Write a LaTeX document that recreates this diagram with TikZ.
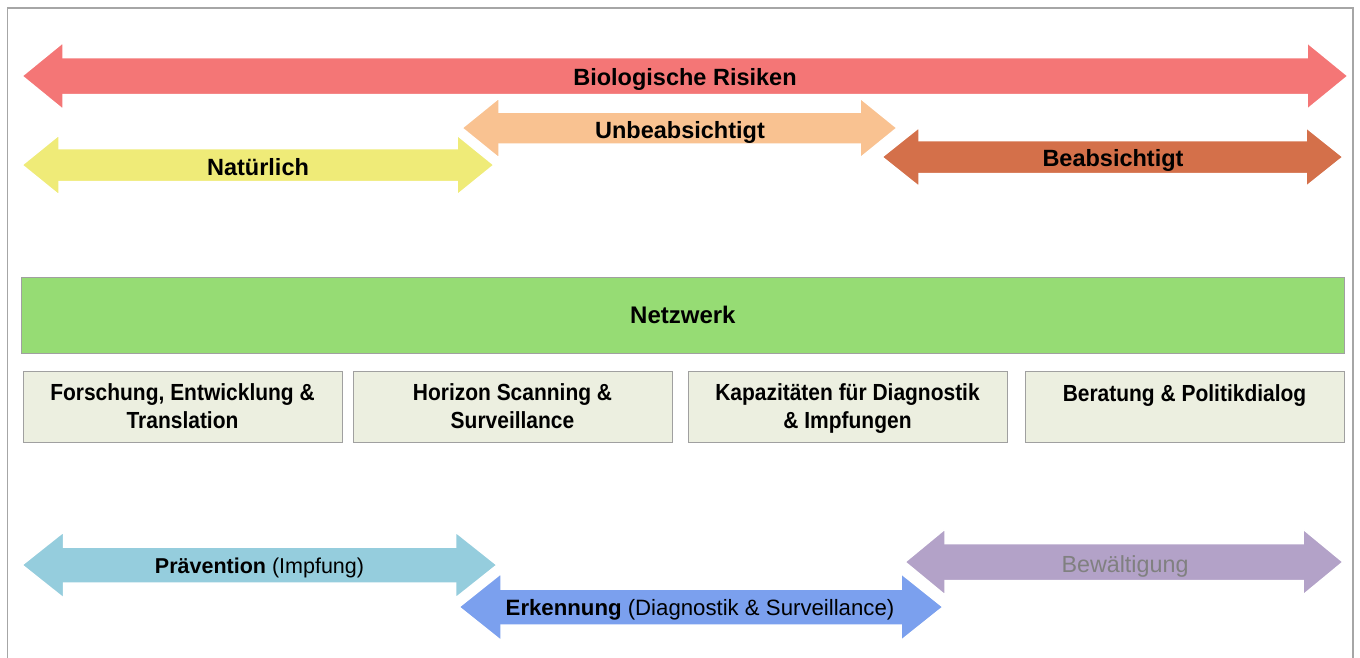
\documentclass[tikz,border=0pt]{standalone}
\usepackage{fontspec}
\setmainfont{Liberation Sans}
\newfontfamily\condfont[FakeStretch=0.9]{Liberation Sans}
\definecolor{cred}{HTML}{F47676}
\definecolor{cyel}{HTML}{EFEB78}
\definecolor{cora}{HTML}{F9C291}
\definecolor{cbro}{HTML}{D4704A}
\definecolor{cgrn}{HTML}{96DC74}
\definecolor{cbox}{HTML}{ECEFE0}
\definecolor{cedge}{HTML}{A0A0A0}
\definecolor{cframe}{HTML}{A6A6A6}
\definecolor{cpra}{HTML}{95CDDD}
\definecolor{cerk}{HTML}{7BA0EE}
\definecolor{cbew}{HTML}{B3A2C8}
\definecolor{cbewtxt}{HTML}{808080}
\newcommand{\dblarr}[7]{% x1, x2, yc, shaft half, head half, head length, colour
  \draw[arrowshape, fill=#7] (#1,#3) -- (#1+#6,#3-#5) -- (#1+#6,#3-#4) -- (#2-#6,#3-#4)
    -- (#2-#6,#3-#5) -- (#2,#3) -- (#2-#6,#3+#5) -- (#2-#6,#3+#4) -- (#1+#6,#3+#4)
    -- (#1+#6,#3+#5) -- cycle;}
\tikzset{
  arrowshape/.style={draw=white, line width=1.5pt, line join=miter},
  toplbl/.style={font=\bfseries\fontsize{23.5}{28}\selectfont, inner sep=0pt, text height=17pt, text depth=0pt},
  botlbl/.style={font=\fontsize{21.5}{26}\selectfont, inner sep=0pt, text height=15.5pt, text depth=0pt},
  netbox/.style={draw=cedge, line width=0.8pt, fill=cgrn, minimum width=1323pt, minimum height=76pt,
    inner sep=0pt, anchor=north west, font=\bfseries\fontsize{24}{28}\selectfont, text height=17pt, text depth=0pt},
  fieldbox/.style={draw=cedge, line width=0.8pt, fill=cbox, minimum width=319pt, minimum height=71pt,
    inner sep=0pt, anchor=north west},
  boxlbl/.style={font=\condfont\bfseries\fontsize{23.3}{28}\selectfont, align=center, inner sep=0pt, anchor=base},
}
\begin{document}
\begin{tikzpicture}[x=1pt, y=-1pt]
\useasboundingbox (0,0) rectangle (1360,657);
% frame
\draw[cframe, line width=1.5pt] (7.5,660) -- (7.5,8) -- (1353,8) -- (1353,660);
% risk arrows
\dblarr{22}{1348}{76}{18.5}{33.5}{41}{cred}
\node[toplbl] (risk) at (685,77) {Biologische Risiken};
\dblarr{22}{494}{165}{16.5}{30}{37}{cyel}
\node[toplbl] (nat) at (258,167) {Natürlich};
\dblarr{462}{897}{128}{16}{30}{37}{cora}
\node[toplbl] (unb) at (680,130) {Unbeabsichtigt};
\dblarr{882}{1343}{157}{16.5}{29.5}{37}{cbro}
\node[toplbl] (bea) at (1113,158) {Beabsichtigt};
% network
\node[netbox] (net) at (21,277) {Netzwerk};
\node[fieldbox] (f1) at (23,370.5) {};
\node[fieldbox] (f2) at (353,370.5) {};
\node[fieldbox] (f3) at (688,370.5) {};
\node[fieldbox] (f4) at (1025,371) {};
\node[boxlbl] (t1) at (182.5,428) {Forschung, Entwicklung \&\\Translation};
\node[boxlbl] (t2) at (512.5,428) {Horizon Scanning \&\\Surveillance};
\node[boxlbl] (t3) at (847.5,428) {Kapazitäten für Diagnostik\\\& Impfungen};
\node[boxlbl] (t4) at (1184.5,401.5) {Beratung \& Politikdialog};
% phase arrows
\dblarr{22}{497}{565}{18}{33}{41.5}{cpra}
\dblarr{459}{943}{607}{18}{33.5}{42}{cerk}
\dblarr{905}{1343}{562}{18.5}{33}{40}{cbew}
\node[botlbl] (pra) at (259.5,566) {\textbf{Prävention} (Impfung)};
\node[botlbl, font=\fontsize{22.2}{26}\selectfont] (erk) at (700,608) {\textbf{Erkennung} (Diagnostik \& Surveillance)};
\node[botlbl, text=cbewtxt, font=\fontsize{23.3}{26}\selectfont] (bew) at (1125,565) {Bewältigung};
\end{tikzpicture}
\end{document}
